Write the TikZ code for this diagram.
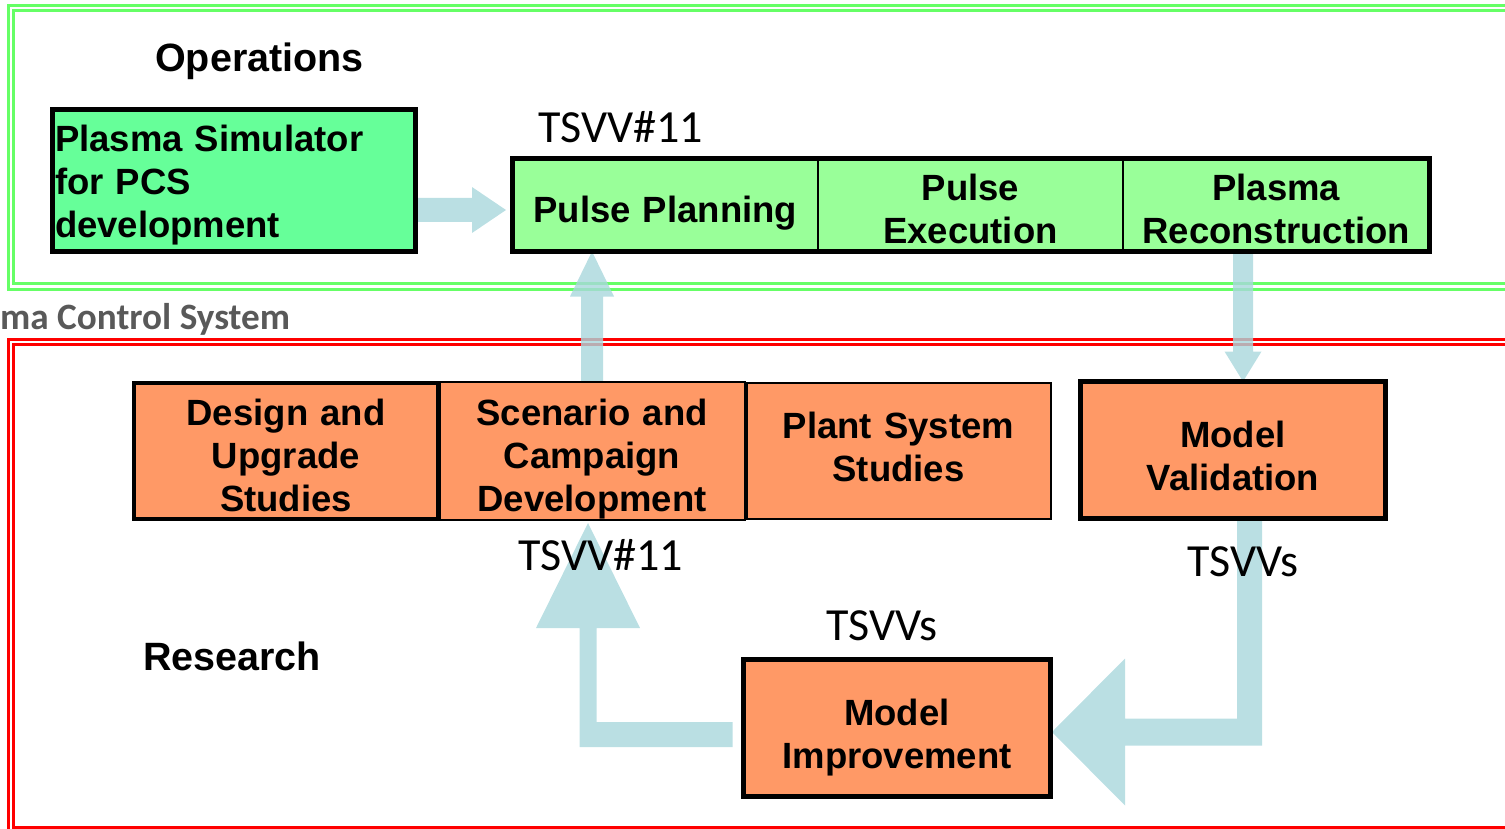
\documentclass[tikz,border=0pt]{standalone}
\usepackage{fontspec}
\setmainfont{Liberation Sans}
\newfontfamily\calfont{Carlito}
\usetikzlibrary{calc}

\definecolor{simgreen}{HTML}{66FF99}
\definecolor{opsgreen}{HTML}{99FF99}
\definecolor{resorange}{HTML}{FF9966}
\definecolor{framegreen}{HTML}{66FF66}
\definecolor{framered}{HTML}{FF0000}
\definecolor{flowblue}{RGB}{169,215,220}
\definecolor{pcsgray}{HTML}{595959}

\pgfdeclarelayer{frame}
\pgfdeclarelayer{flow}
\pgfsetlayers{frame,flow,main}

\newcommand\boxfont{\bfseries\fontsize{36.5}{43}\selectfont}
\newcommand\headfont{\bfseries\fontsize{39.5}{46}\selectfont}
\newcommand\tagfont{\calfont\fontsize{46}{52}\selectfont}

\tikzset{
  % struts of fixed height/depth keep the text block placement uniform
  struts/.style 2 args={execute at begin node={\rule{0pt}{#1pt}},
                        execute at end node={\rule[-#2pt]{0pt}{#2pt}}},
  box/.style={draw=black, rectangle, inner sep=0pt, outer sep=0pt,
              align=center, font=\boxfont, struts={42}{8}},
  opsbox/.style={box, fill=opsgreen, line width=2.5pt},
  resbox/.style={box, fill=resorange},
  flow/.style={fill=flowblue, fill opacity=0.8},
  tag/.style={anchor=base west, inner sep=0pt, font=\tagfont},
  heading/.style={anchor=base west, inner sep=0pt, font=\headfont},
  frameline/.style={line width=3pt},
}

\begin{document}
\begin{tikzpicture}[x=1pt, y=-1pt]
\useasboundingbox (0,0) rectangle (1505,829);
\clip (0,0) rectangle (1505,829);

% ---------- boxes ----------
\node[box, fill=simgreen, line width=5pt, minimum width=363pt, minimum height=140pt,
      text width=358pt, align=left, struts={28}{14}] (ps) at (234,180.5)
      {Plasma Simulator\\for PCS\\development};

\node[opsbox, minimum width=305.5pt, minimum height=93pt, text width=296pt,
      struts={44}{8}] (pp1) at (665.25,205) {Pulse Planning};
\node[opsbox, minimum width=305pt, minimum height=93pt, text width=296pt] (pp2) at (970.5,205) {Pulse\\Execution};
\node[opsbox, minimum width=306.5pt, minimum height=93pt, text width=298pt] (pp3) at (1276.25,205) {Plasma\\Reconstruction};
\draw[line width=5pt] (pp1.north west) rectangle (pp3.south east);

\node[resbox, line width=4pt, minimum width=304pt, minimum height=136pt, text width=296pt] (ds) at (286,451)
      {Design and\\Upgrade\\Studies};
\node[resbox, line width=2.5pt, minimum width=304.5pt, minimum height=136pt, text width=296pt,
      struts={42}{25}] (pl) at (898.5,451) {Plant System\\Studies};
\node[resbox, line width=2.5pt, minimum width=305.5pt, minimum height=138pt, text width=298pt] (sc) at (592,451)
      {Scenario and\\Campaign\\Development};

\node[resbox, line width=5pt, minimum width=305pt, minimum height=137pt, text width=296pt,
      struts={45}{8}] (mv) at (1233,450) {Model\\Validation};
\node[resbox, line width=5pt, minimum width=307pt, minimum height=137pt, text width=298pt,
      struts={45}{8}] (mi) at (897,728) {Model\\Improvement};

% ---------- headings and tags ----------
\node[heading] (ops) at (155,72) {Operations};
\node[heading] (res) at (143,670) {Research};
\node[anchor=base west, inner sep=0pt, text=pcsgray,
      font=\calfont\bfseries\fontsize{37.2}{42}\selectfont] (pcs) at (0,329) {ma Control System};

\node[tag] (t1) at (538,143) {TSVV\#11};
\node[tag] (t2) at (518,570) {TSVV\#11};
\node[tag] (t3) at (826,640) {TSVVs};
\node[tag] (t4) at (1187,576) {TSVVs};

% ---------- frames ----------
\begin{pgfonlayer}{frame}
  \draw[frameline, framegreen] (1510,5.8) -- (8.5,5.8) -- (8.5,289.5) -- (1510,289.5);
  \draw[frameline, framegreen, line width=2.8pt] (1510,10.8) -- (13.5,10.8) -- (13.5,283.5) -- (1510,283.5);
  \draw[frameline, framered] (1510,339.8) -- (8.5,339.8) -- (8.5,835);
  \draw[frameline, framered] (1510,344.8) -- (13.8,344.8) -- (13.8,827.3) -- (1510,827.3);
\end{pgfonlayer}

% ---------- block arrows ----------
\coordinate (mvin) at ($(mv.north)+(10,0)$);
\begin{pgfonlayer}{flow}
  % simulator -> pulse planning
  \fill[flow] let \p1=(ps.east), \p2=($(pp1.west)+(-6.5,5)$) in
    (\x1,\y2+12pt) -- (\x2-34pt,\y2+12pt) -- (\x2-34pt,\y2+23pt) -- (\x2,\y2)
    -- (\x2-34pt,\y2-23pt) -- (\x2-34pt,\y2-12pt) -- (\x1,\y2-12pt) -- cycle;
  % scenario -> pulse planning
  \fill[flow] let \p1=(sc.north), \p2=(sc.north |- pp1.south) in
    (\x2-11pt,\y1) -- (\x2-11pt,\y2-45pt) -- (\x2-22pt,\y2-45pt) -- (\x2,\y2)
    -- (\x2+22pt,\y2-45pt) -- (\x2+11pt,\y2-45pt) -- (\x2+11pt,\y1) -- cycle;
  % reconstruction -> validation
  \fill[flow] let \p1=(mvin |- pp3.south), \p2=(mvin) in
    (\x2-10pt,\y1) -- (\x2-10pt,\y2+30pt) -- (\x2-18.5pt,\y2+30pt) -- (\x2,\y2)
    -- (\x2+18.5pt,\y2+30pt) -- (\x2+10pt,\y2+30pt) -- (\x2+10pt,\y1) -- cycle;
  % validation -> improvement
  \fill[flow] let \p1=($(mv.south)+(16.5,0)$), \p2=($(mi.east)+(1.5,4)$) in
    (\x1-12.5pt,\y1) -- (\x1+12.5pt,\y1) -- (\x1+12.5pt,\y2-13.5pt)
    -- (\x2+73pt,\y2-13.5pt) -- (\x2+73pt,\y2-73.5pt) -- (\x2,\y2)
    -- (\x2+73pt,\y2+73.5pt) -- (\x2+73pt,\y2+13.5pt) -- (\x1-12.5pt,\y2+13.5pt) -- cycle;
  % improvement -> scenario
  \fill[flow] let \p1=($(mi.west)+(-11,6.5)$), \p2=($(sc.south)+(-4,3)$) in
    (\x1,\y1+12.5pt) -- (\x2+8.5pt,\y1+12.5pt) -- (\x2+8.5pt,\y2-105pt)
    -- (\x2+52pt,\y2-105pt) -- (\x2,\y2) -- (\x2-52pt,\y2-105pt)
    -- (\x2-8.5pt,\y2-105pt) -- (\x2-8.5pt,\y1-12.5pt) -- (\x1,\y1-12.5pt) -- cycle;
\end{pgfonlayer}
\end{tikzpicture}
\end{document}
